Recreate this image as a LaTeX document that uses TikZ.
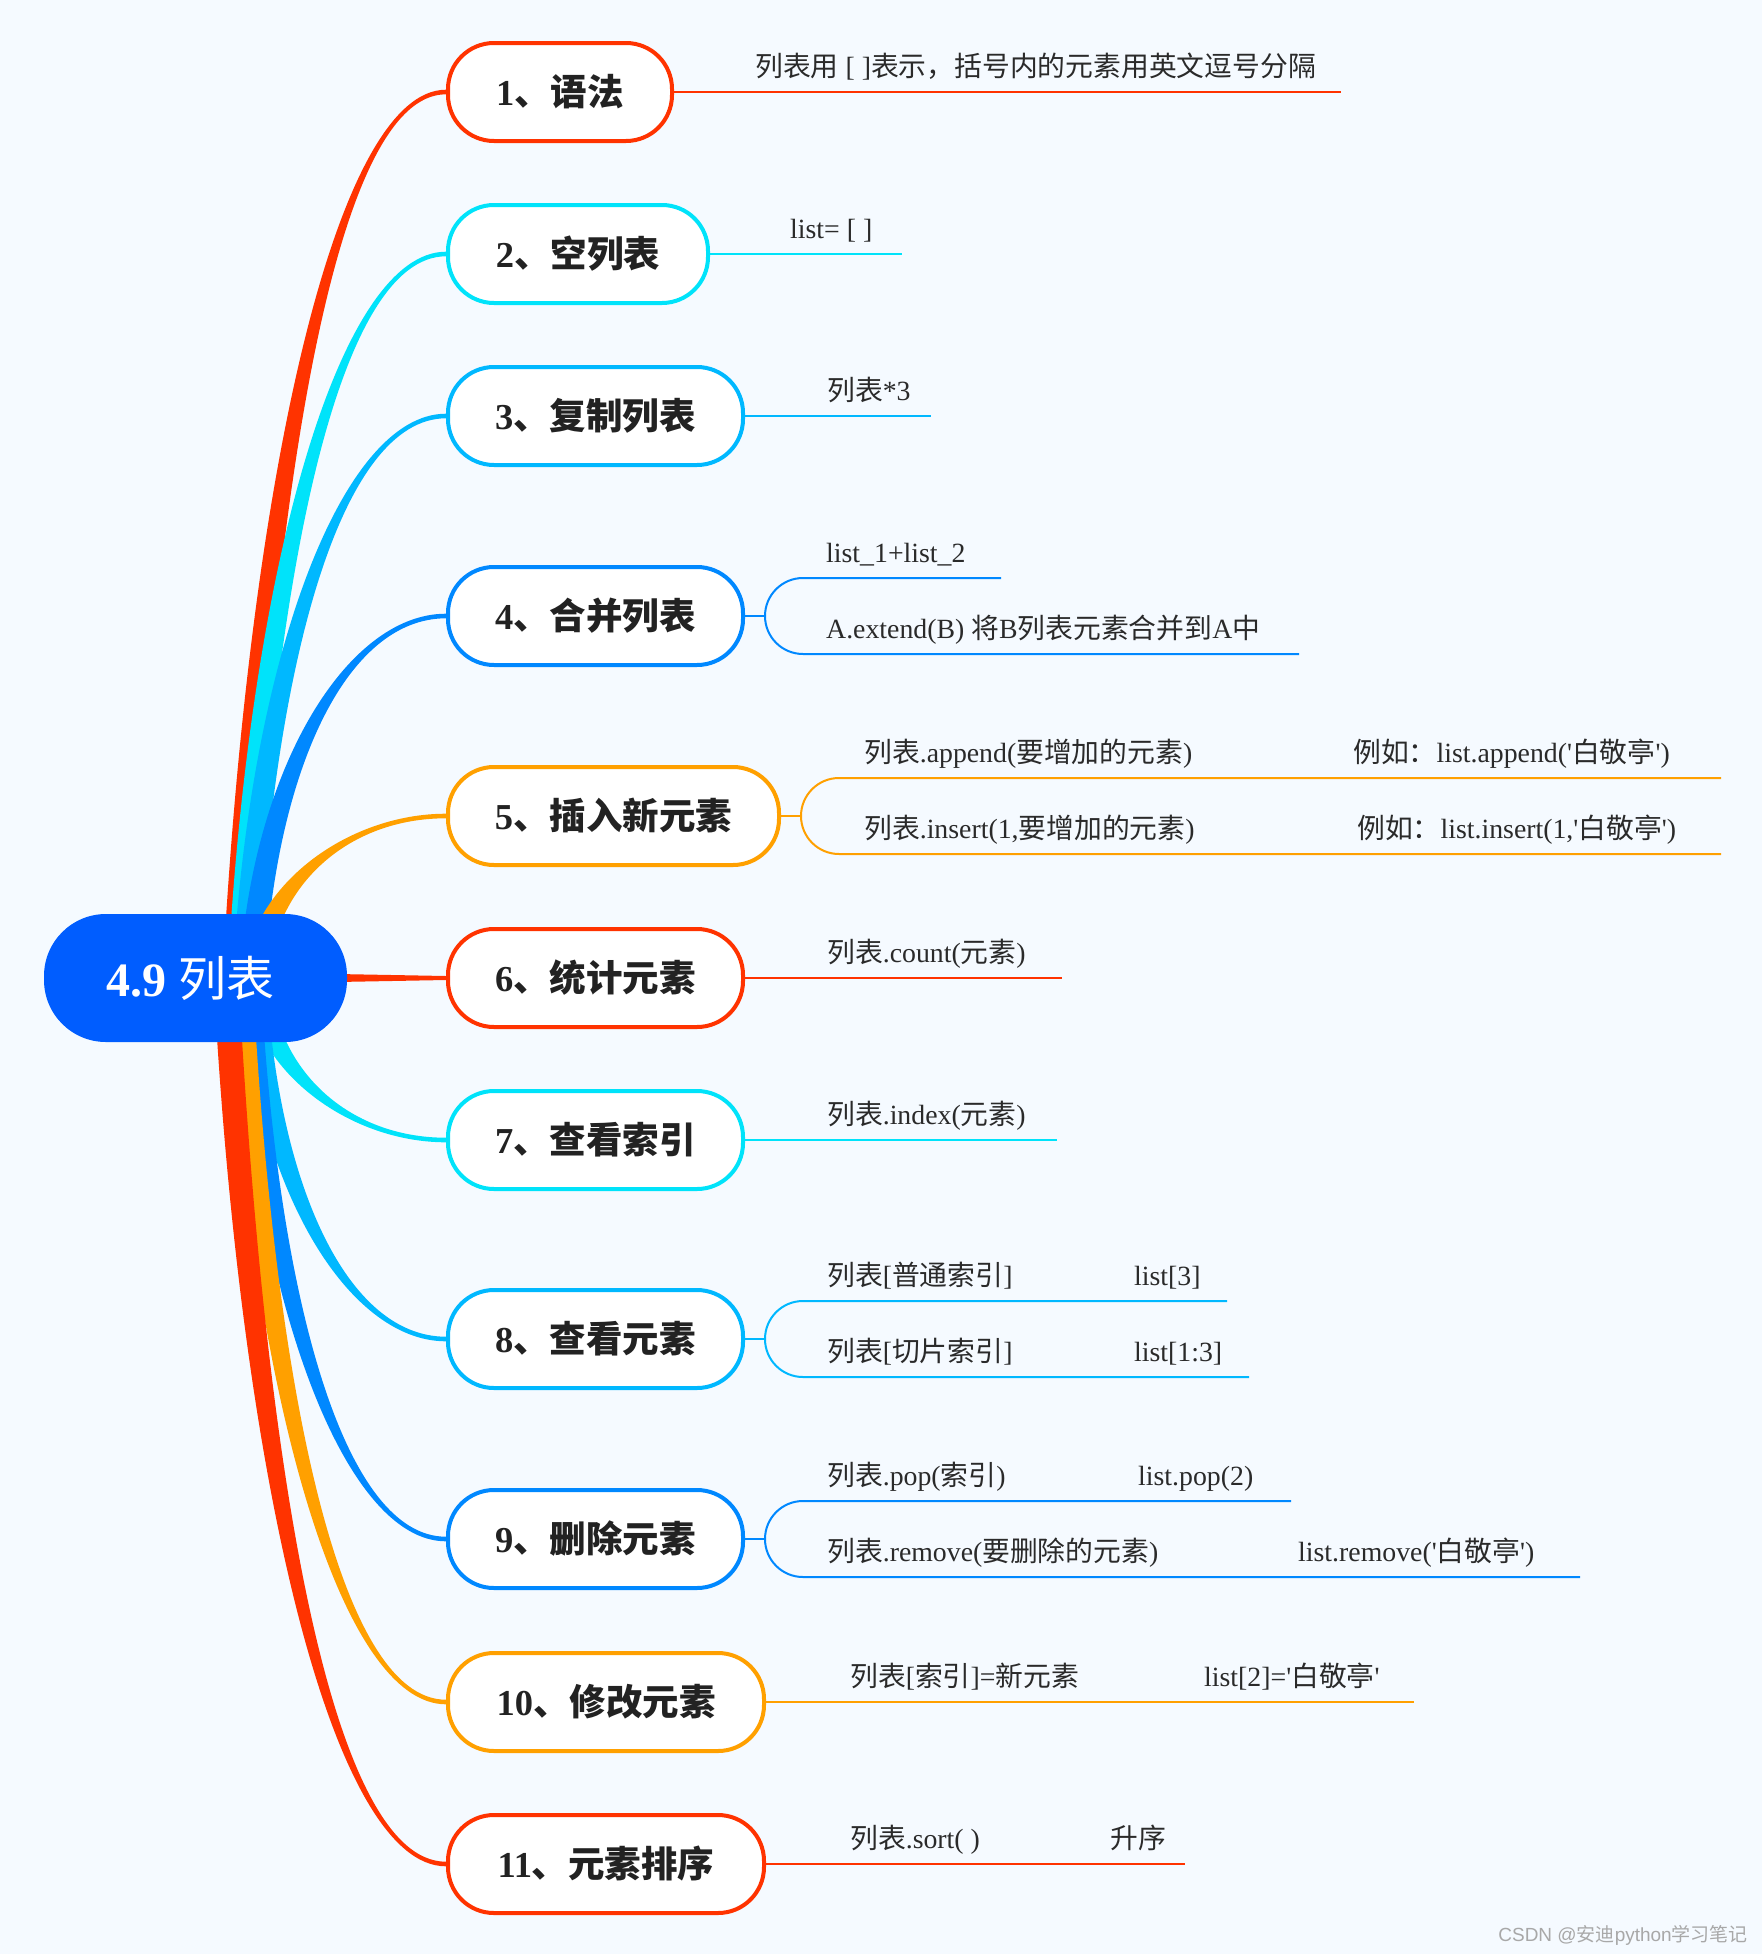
\documentclass[tikz,border=0pt]{standalone}
\usepackage{fontspec}
\setmainfont{Liberation Serif}
\newfontfamily\cjk{Noto Sans CJK SC}
\newfontfamily\wsans{Liberation Sans}
\usetikzlibrary{calc}
\newcommand\zhs[1]{{\cjk #1}}
\definecolor{cred}{HTML}{FF3300}
\definecolor{ccyan}{HTML}{00E3FA}
\definecolor{clight}{HTML}{00B8FF}
\definecolor{cblue}{HTML}{0088FF}
\definecolor{corange}{HTML}{FFA000}
\definecolor{croot}{HTML}{005DFF}
\definecolor{cbg}{HTML}{F5FAFF}
\definecolor{ctext}{HTML}{222222}
\definecolor{cleaf}{HTML}{2A2A2A}
\definecolor{cmark}{HTML}{A8A8A8}
\pgfdeclarelayer{bglayer}
\pgfdeclarelayer{curvelayer}
\pgfsetlayers{bglayer,curvelayer,main}
\def\hzero{12.5pt}
\def\hone{2.3pt}
\newcommand\branchc[3]{%
 \fill[#1] let \p1=(#2), \p2=(#3.west), \n1={\y2-\y1}, \n2={ifthenelse(\n1>0,1,-1)},
   \n3={0.03*abs(\n1)}, \n4={0.565*\n1}, \n5={0.52*(\x2-\x1)} in
  ({\x1-\hzero},{\y1}) .. controls ({\x1+\n3*1pt-\hzero},{\y1+\n4*1pt}) and ({\x2-\n5*1pt},{\y2+(\n2)*\hone}) .. ({\x2},{\y2+(\n2)*\hone})
  -- ({\x2},{\y2-(\n2)*\hone}) .. controls ({\x2-\n5*1pt},{\y2-(\n2)*\hone}) and ({\x1+\n3*1pt+\hzero},{\y1+\n4*1pt}) .. ({\x1+\hzero},{\y1}) -- cycle;}
\begin{document}
\begin{tikzpicture}[x=1pt,y=-1pt,
  mnode/.style={draw=#1, line width=4pt, fill=white, rounded corners=46pt, minimum height=98pt,
    text=ctext, font=\fontsize{36.5}{40}\selectfont\bfseries, anchor=west, inner sep=0pt, align=center},
  rootnode/.style={fill=croot, rounded corners=62pt, minimum width=303pt, minimum height=128pt,
    text=white, font=\fontsize{48}{52}\selectfont, inner sep=0pt},
  leaf/.style={draw=#1, line width=2pt},
  ltext/.style={anchor=base west, inner sep=0pt, text=cleaf, font=\fontsize{27.8}{32}\selectfont}]
\useasboundingbox (0,0) rectangle (1762,1954);
\begin{pgfonlayer}{bglayer}
\fill[cbg] (0,0) rectangle (1762,1954);
\end{pgfonlayer}

% main topic and subtopics
\node[rootnode] (root) at (195.5,978) {\textbf{4.9} \zhs{列表}\hspace*{10pt}};
\node[mnode=cred, minimum width=224pt] (n1) at (446,92) {1\zhs{、语法}};
\node[mnode=ccyan, minimum width=260pt] (n2) at (446,254) {2\zhs{、空列表}};
\node[mnode=clight, minimum width=295pt] (n3) at (446,416) {3\zhs{、复制列表}};
\node[mnode=cblue, minimum width=295pt] (n4) at (446,616) {4\zhs{、合并列表}};
\node[mnode=corange, minimum width=331pt] (n5) at (446,816) {5\zhs{、插入新元素}};
\node[mnode=cred, minimum width=295pt] (n6) at (446,978) {6\zhs{、统计元素}};
\node[mnode=ccyan, minimum width=295pt] (n7) at (446,1140) {7\zhs{、查看索引}};
\node[mnode=clight, minimum width=295pt] (n8) at (446,1339) {8\zhs{、查看元素}};
\node[mnode=cblue, minimum width=295pt] (n9) at (446,1539) {9\zhs{、删除元素}};
\node[mnode=corange, minimum width=316pt] (n10) at (446,1702) {10\zhs{、修改元素}};
\node[mnode=cred, minimum width=316pt] (n11) at (446,1864) {11\zhs{、元素排序}};

% tapered branches
\begin{pgfonlayer}{curvelayer}
\coordinate (s1) at (235,978);
\coordinate (s2) at (240,978);
\coordinate (s3) at (245,978);
\coordinate (s4) at (252,978);
\coordinate (s5) at (256,978);
\coordinate (s7) at (258,978);
\coordinate (s8) at (254,978);
\coordinate (s9) at (248,978);
\coordinate (s10) at (240,978);
\coordinate (s11) at (226,978);
\branchc{cred}{s1}{n1}
\branchc{ccyan}{s2}{n2}
\branchc{clight}{s3}{n3}
\branchc{cblue}{s4}{n4}
\branchc{corange}{s5}{n5}
\fill[cred] ($(root.east)+(-10,-4)$) -- ($(n6.west)+(0,-2)$) -- ($(n6.west)+(0,2)$) -- ($(root.east)+(-10,4)$) -- cycle;
\branchc{ccyan}{s7}{n7}
\branchc{clight}{s8}{n8}
\branchc{cblue}{s9}{n9}
\branchc{corange}{s10}{n10}
\branchc{cred}{s11}{n11}
\end{pgfonlayer}

% leaf lines
\coordinate (l1) at (1341,92);
\coordinate (l2) at (902,254);
\coordinate (l3) at (931,416);
\coordinate (k4) at (765,616);
\coordinate (l4a) at (1001,578);
\coordinate (l4b) at (1299,654);
\coordinate (k5) at (801,816);
\coordinate (l5a) at (1721,778);
\coordinate (l5b) at (1721,854);
\coordinate (l6) at (1062,978);
\coordinate (l7) at (1057,1140);
\coordinate (k8) at (765,1339);
\coordinate (l8a) at (1227,1301);
\coordinate (l8b) at (1249,1377);
\coordinate (k9) at (765,1539);
\coordinate (l9a) at (1291,1501);
\coordinate (l9b) at (1580,1577);
\coordinate (l10) at (1414,1702);
\coordinate (l11) at (1185,1864);

\draw[leaf=cred] (n1.east) -- (l1);
\draw[leaf=ccyan] (n2.east) -- (l2);
\draw[leaf=clight] (n3.east) -- (l3);
\draw[leaf=cblue] (n4.east) -- (k4);
\draw[leaf=cblue, rounded corners=38pt] (l4a) -- (l4a -| k4) -- (l4b -| k4) -- (l4b);
\draw[leaf=corange] (n5.east) -- (k5);
\draw[leaf=corange, rounded corners=38pt] (l5a) -- (l5a -| k5) -- (l5b -| k5) -- (l5b);
\draw[leaf=cred] (n6.east) -- (l6);
\draw[leaf=ccyan] (n7.east) -- (l7);
\draw[leaf=clight] (n8.east) -- (k8);
\draw[leaf=clight, rounded corners=38pt] (l8a) -- (l8a -| k8) -- (l8b -| k8) -- (l8b);
\draw[leaf=cblue] (n9.east) -- (k9);
\draw[leaf=cblue, rounded corners=38pt] (l9a) -- (l9a -| k9) -- (l9b -| k9) -- (l9b);
\draw[leaf=corange] (n10.east) -- (l10);
\draw[leaf=cred] (n11.east) -- (l11);

% leaf texts
\node[ltext] (t1) at (755,76) {\zhs{列表用} [ ]\zhs{表示，括号内的元素用英文逗号分隔}};
\node[ltext] (t2) at (790,238) {list= [ ]};
\node[ltext] (t3) at (827,400) {\zhs{列表}*3};
\node[ltext] (t4a) at (826,562) {list\_1+list\_2};
\node[ltext] (t4b) at (826,638) {A.extend(B) \zhs{将}B\zhs{列表元素合并到}A\zhs{中}};
\node[ltext] (t5a) at (864,762) {\zhs{列表}.append(\zhs{要增加的元素})};
\node[ltext] (t5b) at (1353,762) {\zhs{例如：}list.append(\textquotesingle\zhs{白敬亭}\textquotesingle)};
\node[ltext] (t5c) at (864,838) {\zhs{列表}.insert(1,\zhs{要增加的元素})};
\node[ltext] (t5d) at (1357,838) {\zhs{例如：}list.insert(1,\textquotesingle\zhs{白敬亭}\textquotesingle)};
\node[ltext] (t6) at (827,962) {\zhs{列表}.count(\zhs{元素})};
\node[ltext] (t7) at (827,1124) {\zhs{列表}.index(\zhs{元素})};
\node[ltext] (t8a) at (827,1285) {\zhs{列表}[\zhs{普通索引}]};
\node[ltext] (t8b) at (1134,1285) {list[3]};
\node[ltext] (t8c) at (827,1361) {\zhs{列表}[\zhs{切片索引}]};
\node[ltext] (t8d) at (1134,1361) {list[1:3]};
\node[ltext] (t9a) at (827,1485) {\zhs{列表}.pop(\zhs{索引})};
\node[ltext] (t9b) at (1138,1485) {list.pop(2)};
\node[ltext] (t9c) at (827,1561) {\zhs{列表}.remove(\zhs{要删除的元素})};
\node[ltext] (t9d) at (1298,1561) {list.remove(\textquotesingle\zhs{白敬亭}\textquotesingle)};
\node[ltext] (t10a) at (850,1686) {\zhs{列表}[\zhs{索引}]=\zhs{新元素}};
\node[ltext] (t10b) at (1204,1686) {list[2]=\textquotesingle\zhs{白敬亭}\textquotesingle};
\node[ltext] (t11a) at (850,1848) {\zhs{列表}.sort( )};
\node[ltext] (t11b) at (1110,1848) {\zhs{升序}};

% watermark
\node[anchor=base east, inner sep=0pt, text=cmark, font=\fontsize{19}{22}\selectfont] (wm) at (1748,1941)
  {{\wsans CSDN @}\zhs{安迪}{\wsans python}\zhs{学习笔记}};
\end{tikzpicture}
\end{document}
